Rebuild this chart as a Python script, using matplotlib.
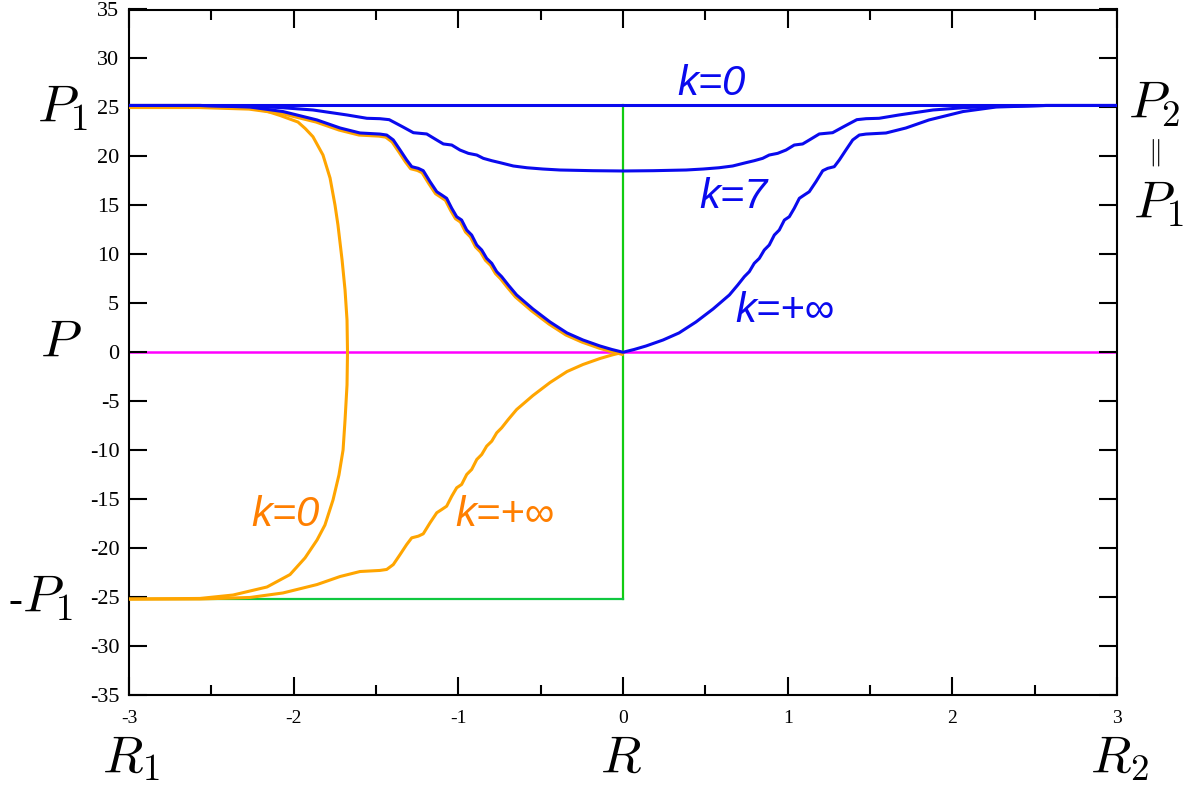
import numpy as np
import matplotlib
matplotlib.use("Agg")
import matplotlib.pyplot as plt
from matplotlib.ticker import MultipleLocator
from matplotlib.transforms import offset_copy

plt.rcParams['mathtext.fontset'] = 'cm'
plt.rcParams['font.family'] = ['Liberation Serif', 'DejaVu Serif']
plt.rcParams['axes.unicode_minus'] = False

# levels
P1 = 25.2

# k=+inf branch, left half (R from -3 to 0)
kinf_r = [-3.0, -2.569, -2.265, -2.065, -1.858, -1.718, -1.597, -1.476, -1.435,
          -1.395, -1.354, -1.314, -1.283, -1.243, -1.213, -1.172, -1.131, -1.101,
          -1.071, -1.040, -1.010, -0.980, -0.949, -0.919, -0.888, -0.858, -0.828,
          -0.797, -0.767, -0.737, -0.697, -0.646, -0.547, -0.443, -0.340, -0.243,
          -0.140, -0.067, 0.0]
kinf_p = [25.2, 25.2, 25.04, 24.58, 23.72, 22.9, 22.39, 22.28, 22.18,
          21.68, 20.66, 19.64, 18.95, 18.78, 18.54, 17.42, 16.39, 16.06,
          15.72, 14.70, 13.84, 13.5, 12.48, 11.97, 10.95, 10.44, 9.59,
          9.08, 8.23, 7.72, 6.87, 5.85, 4.42, 3.09, 1.97, 1.25,
          0.64, 0.28, 0.0]

# k=7 branch, left half
k7_r = [-3.0, -2.569, -2.265, -2.083, -1.883, -1.676, -1.555, -1.476, -1.42,
        -1.375, -1.336, -1.273, -1.192, -1.131, -1.091, -1.040, -0.990, -0.939,
        -0.888, -0.848, -0.797, -0.747, -0.666, -0.583, -0.486, -0.383, -0.182, 0.0]
k7_p = [25.2, 25.2, 25.09, 24.99, 24.74, 24.23, 23.89, 23.85, 23.75,
        23.35, 23.0, 22.42, 22.29, 21.67, 21.27, 21.16, 20.65, 20.31,
        20.14, 19.8, 19.56, 19.36, 19.02, 18.84, 18.71, 18.61, 18.54, 18.51]

# orange k=0 curve (C shape from +P1 to -P1)
k0_r = [-3.0, -2.569, -2.326, -2.265, -2.17, -2.083, -1.974, -1.93, -1.883, -1.822,
        -1.779, -1.749, -1.731, -1.706, -1.688, -1.676, -1.673, -1.676, -1.688,
        -1.700, -1.725, -1.761, -1.810, -1.858, -1.931, -2.022, -2.162, -2.368,
        -2.569, -3.0]
k0_p = [25.2, 25.2, 25.09, 24.94, 24.65, 24.18, 23.51, 22.85, 22.01, 20.14,
        17.79, 15.03, 12.99, 9.42, 6.35, 3.29, 0.0, -3.34, -6.92,
        -9.98, -12.53, -15.08, -17.64, -19.17, -21.0, -22.7, -23.97, -24.79,
        -25.14, -25.2]

blue = '#0a0aee'
orange = '#ffa500'
orange_txt = '#ff7f00'

fig = plt.figure(figsize=(11.95, 7.88), dpi=100)
ax = fig.add_axes([129 / 1195, 1 - 695 / 788, 988 / 1195, 685.5 / 788])

kinf_r = np.array(kinf_r)
kinf_p = np.array(kinf_p)
k7_r = np.array(k7_r)
k7_p = np.array(k7_p)

# reference lines
ax.axhline(0, color='#ff00ff', lw=1.8, zorder=1)
ax.plot([0, 0], [-P1, P1], color='#11cc11', lw=1.6, zorder=2)
ax.plot([-3, 0], [-P1, -P1], color='#10c840', lw=1.6, zorder=2)

# orange curves (the upper k=+inf one sits just under the blue one)
shifted = offset_copy(ax.transData, fig=fig, x=-1.0, y=-1.8, units='dots')
ax.plot(k0_r, k0_p, color=orange, lw=2.2, zorder=3)
ax.plot(kinf_r, kinf_p, color=orange, lw=2.6, zorder=3, transform=shifted)
ax.plot(kinf_r, -kinf_p, color=orange, lw=2.2, zorder=3)

# blue curves (symmetric in R)
ax.plot([-3, 3], [P1, P1], color=blue, lw=2.2, zorder=4)
ax.plot(np.concatenate([k7_r, -k7_r[::-1]]), np.concatenate([k7_p, k7_p[::-1]]),
        color=blue, lw=2.2, zorder=4)
ax.plot(np.concatenate([kinf_r, -kinf_r[::-1]]), np.concatenate([kinf_p, kinf_p[::-1]]),
        color=blue, lw=2.2, zorder=4)

ax.set_xlim(-3, 3)
ax.set_ylim(-35, 35)
ax.xaxis.set_major_locator(MultipleLocator(1))
ax.xaxis.set_minor_locator(MultipleLocator(0.5))
ax.yaxis.set_major_locator(MultipleLocator(5))
ax.tick_params(which='both', direction='in', top=True, right=True, width=1.5)
ax.tick_params(which='major', length=13)
ax.tick_params(which='minor', length=7)
ax.tick_params(axis='y', pad=7, labelsize=16)
ax.tick_params(axis='x', pad=11, labelsize=14)
for s in ax.spines.values():
    s.set_linewidth(1.5)

# curve labels
kfont = dict(family=['Liberation Sans', 'DejaVu Sans'], style='italic', fontsize=30,
             ha='center', va='center')
ax.text(0.54, 27.4, 'k=0', color=blue, **kfont)
ax.text(0.67, 15.9, 'k=7', color=blue, **kfont)
ax.text(0.98, 4.2, 'k=+\u221e', color=blue, **kfont)
ax.text(-2.05, -16.6, 'k=0', color=orange_txt, **kfont)
ax.text(-0.72, -16.6, 'k=+\u221e', color=orange_txt, **kfont)

# big symbol labels around the frame
big = dict(fontsize=38, va='baseline', ha='left')
W, H = 1195, 788
fig.text(37 / W, 1 - 122 / H, r'$P_1$', **big)
fig.text(40 / W, 1 - 357 / H, r'$P$', **big)
fig.text(8 / W, 1 - 612 / H, '-', fontsize=30, va='baseline', ha='left')
fig.text(22 / W, 1 - 612 / H, r'$P_1$', **big)
fig.text(102 / W, 1 - 772 / H, r'$R_1$', **big)
fig.text(600 / W, 1 - 772 / H, r'$R$', **big)
fig.text(1090 / W, 1 - 772 / H, r'$R_2$', **big)
fig.text(1128 / W, 1 - 118 / H, r'$P_2$', **big)
fig.text(1154 / W, 1 - 152 / H, r'$\Vert$', fontsize=20, ha='center', va='center')
fig.text(1133 / W, 1 - 218 / H, r'$P_1$', **big)

fig.savefig('out.png', dpi=100)
